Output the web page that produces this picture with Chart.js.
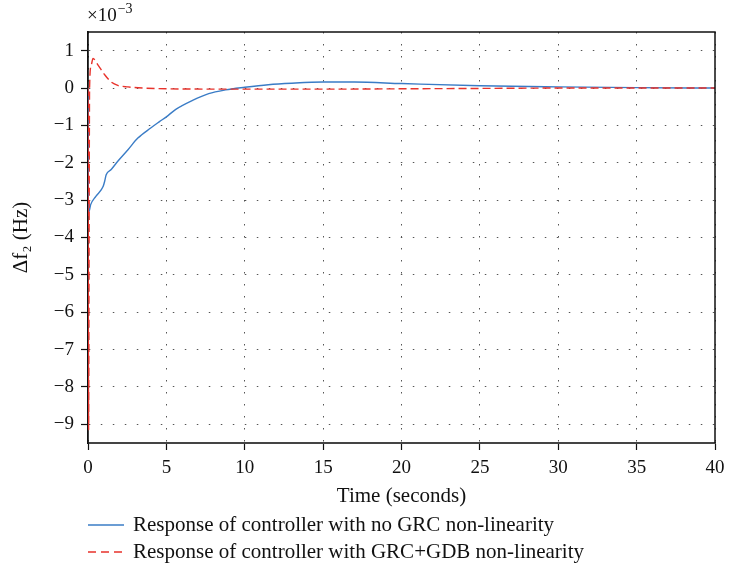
<!DOCTYPE html>
<html>
<head>
<meta charset="utf-8">
<script src="https://cdn.jsdelivr.net/npm/chart.js@4/dist/chart.umd.min.js"></script>
<style>
  html, body { margin: 0; padding: 0; background: #fff; }
  #chart { display: block; }
</style>
</head>
<body>
<canvas id="chart" width="733" height="566"></canvas>
<script>
// Datos (valores en unidades de 10^-3 Hz)
const tNoGrc = [0, 0.02, 0.05, 0.17, 0.5, 0.97, 1.06, 1.16, 1.48, 1.9, 2.55, 3.18, 4.0, 4.56, 5.0, 5.6, 6.67, 7.7, 8.77, 10, 11.5, 13, 15, 17, 20, 25, 30, 35, 40];
const vNoGrc = [0, -3.0, -3.32, -3.12, -2.9, -2.63, -2.5, -2.32, -2.18, -1.96, -1.65, -1.34, -1.07, -0.9, -0.77, -0.57, -0.33, -0.15, -0.05, 0.02, 0.09, 0.13, 0.16, 0.16, 0.12, 0.06, 0.03, 0.01, 0];

const tGdb = [0, 0.02, 0.04, 0.07, 0.1, 0.2, 0.32, 0.63, 1.06, 1.48, 1.9, 2.55, 3.5, 5, 10, 15, 20, 25, 30, 35, 40];
const vGdb = [0, -6.0, -9.15, -4.0, 0, 0.6, 0.79, 0.62, 0.36, 0.16, 0.07, 0.03, 0.0, -0.02, -0.03, -0.03, -0.02, -0.01, 0, 0, 0];

const xTicks = [0, 5, 10, 15, 20, 25, 30, 35, 40];
const yTicks = [-9, -8, -7, -6, -5, -4, -3, -2, -1, 0, 1];

const labelNoGrc = 'Response of controller with no GRC non-linearity';
const labelGdb = 'Response of controller with GRC+GDB non-linearity';

const BLUE = '#3a7cc6';
const RED = '#e8322b';
const FONT = "'Liberation Serif', 'Times New Roman', serif";

function toPoints(ts, vs) {
  return ts.map((t, i) => ({ x: t, y: vs[i] }));
}

function minus(v) {
  return String(v).replace('-', '\u2212');
}

// Marco superior/derecho, factor ×10^-3 y leyenda inferior
const extrasPlugin = {
  id: 'extras',
  afterDraw(chart) {
    const { ctx, chartArea: a } = chart;
    ctx.save();
    ctx.strokeStyle = '#111';
    ctx.lineWidth = 1.5;
    ctx.beginPath();
    ctx.moveTo(a.left, a.top);
    ctx.lineTo(a.right, a.top);
    ctx.lineTo(a.right, a.bottom);
    ctx.stroke();

    ctx.fillStyle = '#111';
    ctx.textBaseline = 'alphabetic';
    ctx.textAlign = 'left';
    ctx.font = '19px ' + FONT;
    ctx.fillText('\u00d710', 87, 21);
    const w = ctx.measureText('\u00d710').width;
    ctx.font = '14px ' + FONT;
    ctx.fillText('\u22123', 87 + w + 1, 13);

    const rows = [
      { y: 525, color: BLUE, dash: [], text: labelNoGrc },
      { y: 552, color: RED, dash: [8, 5], text: labelGdb }
    ];
    rows.forEach(r => {
      ctx.strokeStyle = r.color;
      ctx.lineWidth = 1.3;
      ctx.setLineDash(r.dash);
      ctx.beginPath();
      ctx.moveTo(88, r.y);
      ctx.lineTo(124, r.y);
      ctx.stroke();
      ctx.setLineDash([]);
      ctx.fillStyle = '#111';
      ctx.font = '21px ' + FONT;
      ctx.textBaseline = 'middle';
      ctx.fillText(r.text, 133, r.y);
    });
    ctx.restore();
  }
};

new Chart(document.getElementById('chart'), {
  type: 'line',
  data: {
    datasets: [
      {
        label: labelNoGrc,
        data: toPoints(tNoGrc, vNoGrc),
        borderColor: BLUE,
        borderWidth: 1.4,
        cubicInterpolationMode: 'monotone',
        pointRadius: 0,
        order: 2
      },
      {
        label: labelGdb,
        data: toPoints(tGdb, vGdb),
        borderColor: RED,
        borderWidth: 1.4,
        borderDash: [8, 4],
        cubicInterpolationMode: 'monotone',
        pointRadius: 0,
        order: 1
      }
    ]
  },
  options: {
    responsive: false,
    animation: false,
    devicePixelRatio: 1,
    layout: { padding: { top: 32, right: 18, bottom: 55, left: 0 } },
    plugins: {
      legend: { display: false },
      tooltip: { enabled: false }
    },
    scales: {
      x: {
        type: 'linear',
        min: 0,
        max: 40,
        afterBuildTicks: s => { s.ticks = xTicks.map(v => ({ value: v })); },
        afterFit: s => { s.height = 68; },
        ticks: {
          color: '#111',
          font: { family: FONT, size: 19 },
          padding: 7,
          maxRotation: 0
        },
        grid: {
          color: '#555',
          lineWidth: 1,
          tickColor: '#111',
          tickLength: 7,
          tickWidth: 1.2
        },
        border: { display: true, color: '#444', width: 2, dash: [1.5, 10.5] },
        title: {
          display: true,
          text: 'Time (seconds)',
          color: '#111',
          font: { family: FONT, size: 21 },
          padding: { top: 0, bottom: 2 }
        }
      },
      y: {
        type: 'linear',
        min: -9.5,
        max: 1.5,
        afterBuildTicks: s => { s.ticks = yTicks.map(v => ({ value: v })); },
        afterFit: s => { s.width = 88; },
        ticks: {
          color: '#111',
          font: { family: FONT, size: 19 },
          padding: 7,
          callback: v => minus(v)
        },
        grid: {
          color: '#555',
          lineWidth: 1,
          tickColor: '#111',
          tickLength: 7,
          tickWidth: 1.2
        },
        border: { display: true, color: '#111', width: 1.8, dash: [1.5, 10.5] },
        title: {
          display: true,
          text: '\u0394f\u2082 (Hz)',
          color: '#111',
          font: { family: FONT, size: 21 },
          padding: { top: 9, bottom: 0 }
        }
      }
    }
  },
  plugins: [extrasPlugin]
});
</script>
</body>
</html>
